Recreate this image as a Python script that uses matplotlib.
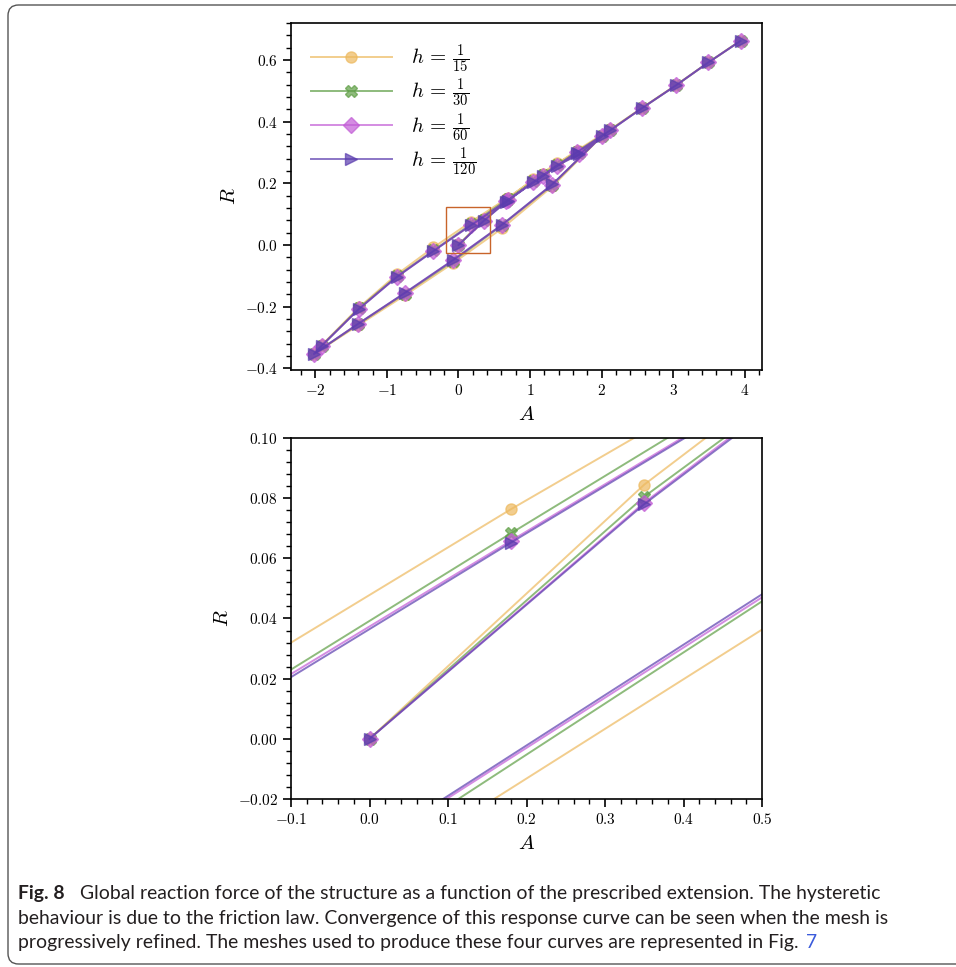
import matplotlib
matplotlib.use("Agg")
import matplotlib.pyplot as plt
from matplotlib.ticker import AutoMinorLocator, FuncFormatter
from matplotlib.patches import Rectangle, FancyBboxPatch

plt.rcParams['mathtext.fontset'] = 'cm'

# prescribed extension A : load 0 -> 2, unload 2 -> -2, reload -2 -> 4
A = [0.0, 0.35, 0.67, 1.045, 1.37, 1.69, 2.01,
     1.31, 0.606, -0.08, -0.75, -1.40, -2.02,
     -1.91, -1.39, -0.86, -0.35, 0.18, 0.685, 1.175, 1.65, 2.12, 2.57, 3.04, 3.49, 3.94]

# reaction force R for each mesh size
R_15 = [0.0, 0.0845, 0.148, 0.213, 0.265, 0.305, 0.355,
        0.190, 0.0538, -0.0594, -0.163, -0.260, -0.353,
        -0.324, -0.202, -0.095, -0.0076, 0.0763, 0.1526, 0.232, 0.306, 0.375, 0.446, 0.519, 0.592, 0.663]
R_30 = [0.0, 0.0805, 0.142, 0.207, 0.259, 0.298, 0.355,
        0.195, 0.0637, -0.0528, -0.157, -0.256, -0.353,
        -0.326, -0.205, -0.101, -0.0174, 0.0683, 0.1486, 0.227, 0.302, 0.373, 0.445, 0.518, 0.592, 0.662]
R_60 = [0.0, 0.0785, 0.142, 0.205, 0.257, 0.296, 0.355,
        0.196, 0.0647, -0.0497, -0.156, -0.255, -0.353,
        -0.326, -0.207, -0.103, -0.018, 0.0658, 0.145, 0.2245, 0.3005, 0.372, 0.445, 0.518, 0.592, 0.662]
R_120 = [0.0, 0.078, 0.141, 0.204, 0.257, 0.295, 0.355,
         0.197, 0.0658, -0.0491, -0.155, -0.255, -0.353,
         -0.326, -0.207, -0.103, -0.0194, 0.0652, 0.1445, 0.224, 0.300, 0.372, 0.445, 0.518, 0.592, 0.662]

series = [
    (R_15, r'$h\,=\,\frac{1}{15}$', '#EDB95E', 'o'),
    (R_30, r'$h\,=\,\frac{1}{30}$', '#5E9E45', 'X'),
    (R_60, r'$h\,=\,\frac{1}{60}$', '#C25CD6', 'D'),
    (R_120, r'$h\,=\,\frac{1}{120}$', '#5A3CAE', '>'),
]

caption = [
    'Global reaction force of the structure as a function of the prescribed extension. The hysteretic',
    'behaviour is due to the friction law. Convergence of this response curve can be seen when the mesh is',
    'progressively refined. The meshes used to produce these four curves are represented in Fig. ',
]

fig = plt.figure(figsize=(9.56, 9.67), dpi=100)
W, H = 956, 967

def px_axes(left, top, right, bottom):
    return fig.add_axes([left / W, 1 - bottom / H, (right - left) / W, (bottom - top) / H])

ax1 = px_axes(291, 23, 762, 370)
ax2 = px_axes(291, 438, 762, 799)

for ax in (ax1, ax2):
    for R, lab, col, mk in series:
        ax.plot(A, R, color=col, marker=mk, markersize=8, lw=1.4, alpha=0.7,
                markeredgecolor=col, label=lab)
    ax.xaxis.set_minor_locator(AutoMinorLocator(5))
    ax.yaxis.set_minor_locator(AutoMinorLocator(5))
    ax.tick_params(which='major', direction='out', length=6, width=1.2, labelsize=11)
    ax.tick_params(which='minor', direction='out', length=3.5, width=1.0)
    for sp in ax.spines.values():
        sp.set_linewidth(1.2)
    ax.set_xlabel(r'$A$', fontsize=15)
    ax.set_ylabel(r'$R$', fontsize=15)

ax1.set_xlim(-2.34, 4.24)
ax1.set_ylim(-0.405, 0.72)
ax1.set_yticks([-0.4, -0.2, 0.0, 0.2, 0.4, 0.6])
ax1.set_xticks([-2, -1, 0, 1, 2, 3, 4])
ax1.xaxis.set_major_formatter(FuncFormatter(lambda v, p: f'${v:.0f}$'))
ax1.yaxis.set_major_formatter(FuncFormatter(lambda v, p: f'${v:.1f}$'))
ax1.add_patch(Rectangle((-0.18, -0.025), 0.62, 0.15, fill=False,
                        edgecolor='#C8642A', lw=1.0, zorder=5))
ax1.legend(loc='upper left', frameon=False, fontsize=15, handlelength=3.9,
           labelspacing=0.08, borderaxespad=0.55, handletextpad=0.9)

ax2.set_xlim(-0.1, 0.5)
ax2.set_ylim(-0.02, 0.1)
ax2.xaxis.set_major_formatter(FuncFormatter(lambda v, p: f'${v:.1f}$'))
ax2.yaxis.set_major_formatter(FuncFormatter(lambda v, p: f'${v:.2f}$'))

# caption box
fig.patches.append(FancyBboxPatch((8 / W, 1 - 964 / H), 1.2, (964 - 5) / H,
                                  boxstyle='round,pad=0,rounding_size=0.011',
                                  transform=fig.transFigure, fill=False,
                                  edgecolor='#555555', lw=1.0))

cap_font = 'Lato'
cap_col = '#231f20'
fs = 14.0

# fit first caption line between x=80 and x=882
probe = fig.text(80 / W, 0.5, caption[0], family=cap_font, fontsize=fs)
fig.canvas.draw()
w = probe.get_window_extent().width
probe.remove()
fs = fs * (882 - 80) / w

fig.text(18 / W, 1 - 899 / H, 'Fig. 8', family=cap_font, fontweight='bold',
         fontsize=fs, color=cap_col, va='baseline')
fig.text(80 / W, 1 - 899 / H, caption[0], family=cap_font, fontsize=fs,
         color=cap_col, va='baseline')
fig.text(18 / W, 1 - 924 / H, caption[1], family=cap_font, fontsize=fs,
         color=cap_col, va='baseline')
t3 = fig.text(18 / W, 1 - 948 / H, caption[2], family=cap_font, fontsize=fs,
              color=cap_col, va='baseline')
fig.canvas.draw()
bb = t3.get_window_extent()
fig.text((bb.x1 + 2) / W, 1 - 948 / H, '7', family=cap_font, fontsize=fs,
         color='#3b5bdb', va='baseline')

fig.savefig('out.png', dpi=100)
